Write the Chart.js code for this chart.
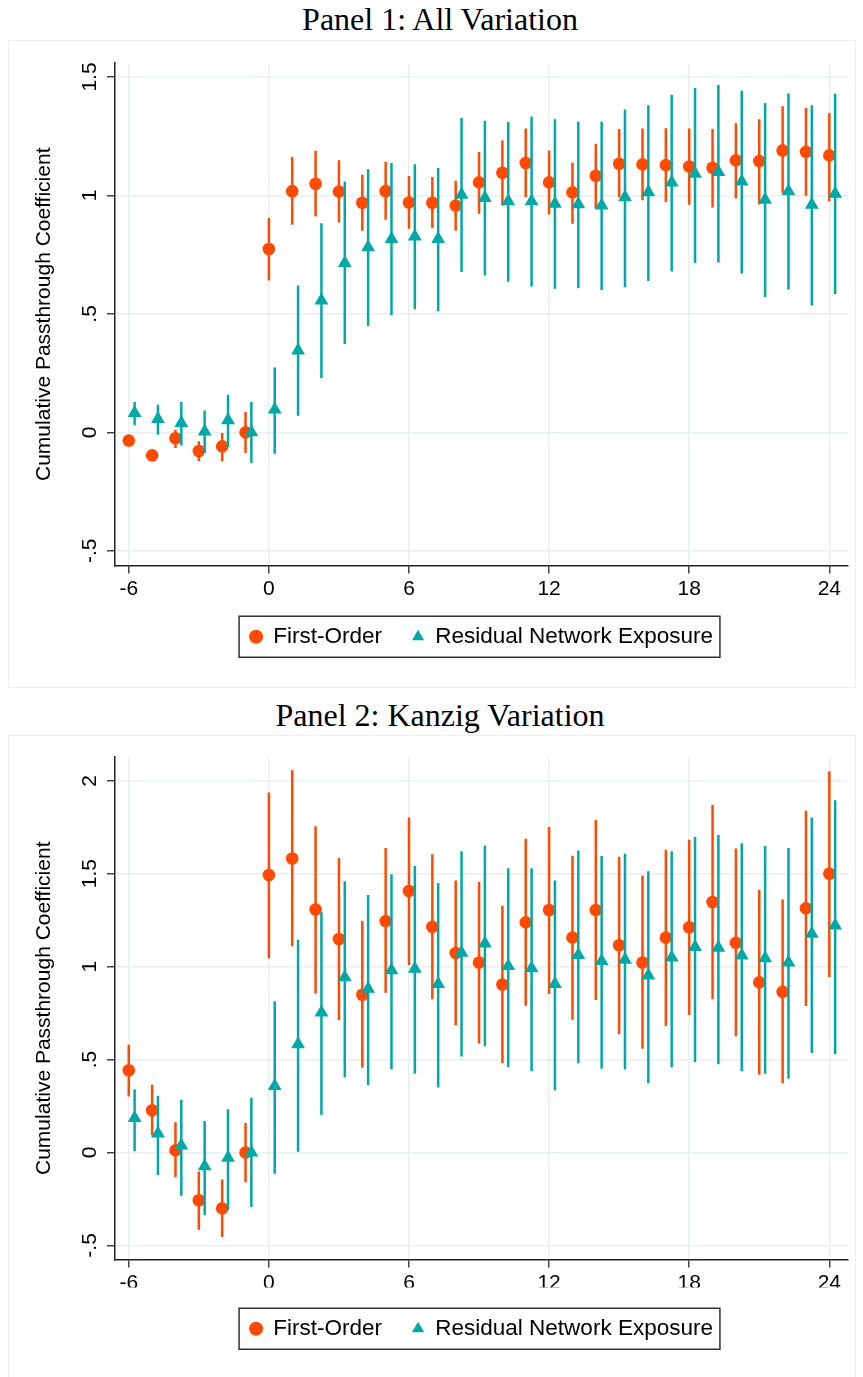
<!DOCTYPE html>
<html>
<head>
<meta charset="utf-8">
<title>Cumulative passthrough</title>
<script src="https://cdn.jsdelivr.net/npm/chart.js@4.4.1/dist/chart.umd.min.js"></script>
<style>
    body { margin: 0; background: #fff; width: 863px; height: 1377px; position: relative; overflow: hidden; }
    .titulo { position: absolute; left: 0; width: 880px; text-align: center; font-family: 'Liberation Serif', serif; font-size: 32px; line-height: 32px; color: #000; }
    .moldura { position: absolute; left: 8px; width: 848px; box-sizing: border-box; border: 1px solid #eeeeee; }
    canvas { position: absolute; left: 8px; }
</style>
</head>
<body>
<div class="titulo" style="top:3px">Panel 1: All Variation</div>
<div class="moldura" style="top:40px;height:648px"></div>
<canvas id="graficoTodas" width="848" height="648" style="top:40px"></canvas>

<div class="titulo" style="top:699px">Panel 2: Kanzig Variation</div>
<div class="moldura" style="top:735px;height:680px"></div>
<canvas id="graficoKanzig" width="848" height="642" style="top:735px"></canvas>

<script>
const months = [-6, -5, -4, -3, -2, -1, 0, 1, 2, 3, 4, 5, 6, 7, 8, 9, 10, 11, 12, 13, 14, 15, 16, 17, 18, 19, 20, 21, 22, 23, 24];
const xTicks = [-6, 0, 6, 12, 18, 24];

// Panel 1: all variation
const fo1 = [-0.035, -0.097, -0.025, -0.079, -0.059, 0, 0.774, 1.018, 1.049, 1.016, 0.969, 1.018, 0.970, 0.969, 0.957, 1.055, 1.096, 1.137, 1.055, 1.013, 1.083, 1.134, 1.131, 1.128, 1.122, 1.117, 1.148, 1.145, 1.190, 1.184, 1.169];
const fo1Lo = [-0.047, -0.109, -0.066, -0.122, -0.122, -0.087, 0.641, 0.876, 0.911, 0.886, 0.851, 0.897, 0.859, 0.861, 0.851, 0.923, 0.958, 0.992, 0.920, 0.881, 0.945, 0.992, 0.980, 0.972, 0.961, 0.949, 0.987, 0.962, 1.010, 0.999, 0.975];
const fo1Hi = [-0.023, -0.085, 0.011, -0.038, -0.003, 0.086, 0.905, 1.162, 1.189, 1.148, 1.087, 1.142, 1.082, 1.078, 1.062, 1.183, 1.232, 1.283, 1.190, 1.139, 1.218, 1.280, 1.283, 1.284, 1.283, 1.280, 1.305, 1.322, 1.376, 1.369, 1.348];
const rne1 = [0.082, 0.056, 0.040, 0.004, 0.051, 0, 0.096, 0.345, 0.557, 0.715, 0.781, 0.816, 0.827, 0.816, 1.003, 0.989, 0.975, 0.975, 0.965, 0.963, 0.958, 0.992, 1.013, 1.055, 1.092, 1.099, 1.059, 0.982, 1.018, 0.961, 1.007];
const rne1Lo = [0.030, -0.010, -0.055, -0.087, -0.062, -0.129, -0.090, 0.070, 0.229, 0.373, 0.449, 0.494, 0.520, 0.511, 0.677, 0.662, 0.636, 0.616, 0.606, 0.608, 0.601, 0.612, 0.639, 0.679, 0.715, 0.717, 0.670, 0.571, 0.603, 0.535, 0.584];
const rne1Hi = [0.128, 0.116, 0.128, 0.092, 0.159, 0.128, 0.274, 0.620, 0.883, 1.059, 1.111, 1.137, 1.132, 1.116, 1.327, 1.315, 1.310, 1.333, 1.322, 1.311, 1.311, 1.363, 1.381, 1.425, 1.454, 1.466, 1.442, 1.390, 1.430, 1.381, 1.429];
const yTicks1 = [-0.5, 0, 0.5, 1, 1.5];
const yLabels1 = ['-.5', '0', '.5', '1', '1.5'];

// Panel 2: Kanzig variation
const fo2 = [0.442, 0.227, 0.011, -0.257, -0.301, 0, 1.493, 1.582, 1.307, 1.149, 0.849, 1.245, 1.407, 1.214, 1.073, 1.022, 0.904, 1.238, 1.305, 1.156, 1.305, 1.115, 1.022, 1.156, 1.212, 1.348, 1.128, 0.915, 0.864, 1.314, 1.500];
const fo2Lo = [0.301, 0.093, -0.134, -0.416, -0.455, -0.160, 1.045, 1.110, 0.855, 0.712, 0.456, 0.859, 1.009, 0.824, 0.684, 0.586, 0.480, 0.790, 0.853, 0.714, 0.820, 0.638, 0.558, 0.680, 0.740, 0.825, 0.625, 0.418, 0.372, 0.788, 0.944];
const fo2Hi = [0.580, 0.364, 0.162, -0.102, -0.145, 0.158, 1.937, 2.058, 1.755, 1.584, 1.245, 1.638, 1.803, 1.605, 1.463, 1.456, 1.327, 1.688, 1.751, 1.597, 1.789, 1.591, 1.491, 1.629, 1.683, 1.870, 1.636, 1.413, 1.361, 1.839, 2.051];
const rne2 = [0.186, 0.102, 0.037, -0.074, -0.028, 0, 0.357, 0.582, 0.753, 0.943, 0.881, 0.980, 0.989, 0.907, 1.075, 1.125, 1.004, 0.991, 0.907, 1.063, 1.030, 1.037, 0.952, 1.049, 1.106, 1.102, 1.060, 1.045, 1.022, 1.177, 1.221];
const rne2Lo = [0.007, -0.121, -0.233, -0.338, -0.310, -0.294, -0.115, 0.004, 0.201, 0.405, 0.363, 0.446, 0.424, 0.350, 0.517, 0.571, 0.459, 0.437, 0.335, 0.480, 0.450, 0.446, 0.372, 0.459, 0.487, 0.474, 0.437, 0.424, 0.396, 0.535, 0.530];
const rne2Hi = [0.340, 0.305, 0.283, 0.169, 0.233, 0.294, 0.813, 1.145, 1.292, 1.460, 1.385, 1.497, 1.541, 1.450, 1.621, 1.651, 1.530, 1.530, 1.463, 1.625, 1.595, 1.608, 1.513, 1.621, 1.697, 1.708, 1.664, 1.649, 1.638, 1.803, 1.895];
const yTicks2 = [-0.5, 0, 0.5, 1, 1.5, 2];
const yLabels2 = ['-.5', '0', '.5', '1', '1.5', '2'];

const LARANJA = '#ff4a00';
const VERDE = '#00a8a8';
const DESLOCAMENTO = 0.25;   // triangles sit a quarter month to the right

Chart.defaults.font.family = "'Liberation Sans', Arial, sans-serif";
Chart.defaults.font.size = 21;
Chart.defaults.color = '#000';

function pontos(ys, shift) {
    return months.map((m, i) => ({ x: m + shift, y: ys[i] }));
}

function intervalos(lo, hi, shift) {
    return months.map((m, i) => ({ x: m + shift, y: [lo[i], hi[i]] }));
}

// box around the legend, Stata style
const caixaLegenda = {
    id: 'caixaLegenda',
    afterDraw(chart) {
        const boxes = chart.legend && chart.legend.legendHitBoxes;
        if (!boxes || boxes.length === 0) {
            return;
        }
        const left = Math.min(...boxes.map((b) => b.left)) - 11;
        const right = Math.max(...boxes.map((b) => b.left + b.width)) + 7;
        const cy = boxes[0].top + boxes[0].height / 2;
        const ctx = chart.ctx;
        ctx.save();
        ctx.strokeStyle = '#333';
        ctx.lineWidth = 1.5;
        ctx.strokeRect(left, cy - 20.5, right - left, 41);
        ctx.restore();
    }
};

function criarPainel(canvasId, serie, eixo) {
    const ctx = document.getElementById(canvasId);
    return new Chart(ctx, {
        type: 'scatter',
        data: {
            datasets: [
                {
                    type: 'bar',
                    label: 'ci-fo',
                    data: intervalos(serie.foLo, serie.foHi, 0),
                    backgroundColor: LARANJA,
                    grouped: false,
                    maxBarThickness: 2.5,
                    order: 4
                },
                {
                    label: 'First-Order',
                    data: pontos(serie.fo, 0),
                    pointStyle: 'circle',
                    pointRadius: 6.3,
                    backgroundColor: LARANJA,
                    borderWidth: 0,
                    order: 3
                },
                {
                    type: 'bar',
                    label: 'ci-rne',
                    data: intervalos(serie.rneLo, serie.rneHi, DESLOCAMENTO),
                    backgroundColor: VERDE,
                    grouped: false,
                    maxBarThickness: 2.5,
                    order: 2
                },
                {
                    label: 'Residual Network Exposure',
                    data: pontos(serie.rne, DESLOCAMENTO),
                    pointStyle: 'triangle',
                    pointRadius: 8,
                    backgroundColor: VERDE,
                    borderWidth: 0,
                    order: 1
                }
            ]
        },
        options: {
            responsive: false,
            animation: false,
            events: [],
            layout: { padding: { top: eixo.padTop, left: 0, right: 7, bottom: eixo.padBottom } },
            scales: {
                x: {
                    type: 'linear',
                    min: -6.59,
                    max: 24.8,
                    offset: false,
                    afterBuildTicks: (s) => { s.ticks = xTicks.map((v) => ({ value: v })); },
                    afterFit: (s) => { s.height = eixo.xHeight; },
                    ticks: { padding: 3, maxRotation: 0, callback: (v) => String(v) },
                    grid: { offset: false, color: '#e8eff1', lineWidth: 1.5, tickColor: '#444', tickWidth: 1.5, tickLength: 8 },
                    border: { color: '#222', width: 1.5 }
                },
                y: {
                    type: 'linear',
                    min: eixo.min,
                    max: eixo.max,
                    afterBuildTicks: (s) => { s.ticks = eixo.ticks.map((v) => ({ value: v })); },
                    afterFit: (s) => { s.width = 107; },
                    ticks: {
                        padding: 2,
                        minRotation: 90,
                        maxRotation: 90,
                        crossAlign: 'center',
                        callback: (v) => eixo.labels[eixo.ticks.indexOf(v)]
                    },
                    grid: { color: '#e8eff1', lineWidth: 1.5, tickColor: '#444', tickWidth: 1.5, tickLength: 8 },
                    border: { color: '#222', width: 1.5 },
                    title: {
                        display: true,
                        text: 'Cumulative Passthrough Coefficient',
                        padding: { top: 23.7, bottom: 0 },
                        font: { size: 21 }
                    }
                }
            },
            plugins: {
                tooltip: { enabled: false },
                legend: {
                    position: 'bottom',
                    fullSize: false,
                    labels: {
                        usePointStyle: true,
                        boxWidth: 12,
                        boxHeight: 10,
                        padding: 30,
                        font: { size: 22.5 },
                        filter: (item) => item.datasetIndex === 1 || item.datasetIndex === 3,
                        sort: (a, b) => a.datasetIndex - b.datasetIndex
                    }
                }
            }
        },
        plugins: [caixaLegenda]
    });
}

criarPainel('graficoTodas',
    { fo: fo1, foLo: fo1Lo, foHi: fo1Hi, rne: rne1, rneLo: rne1Lo, rneHi: rne1Hi },
    { min: -0.562, max: 1.559, ticks: yTicks1, labels: yLabels1, padTop: 23, padBottom: 30, xHeight: 30 });

criarPainel('graficoKanzig',
    { fo: fo2, foLo: fo2Lo, foHi: fo2Hi, rne: rne2, rneLo: rne2Lo, rneHi: rne2Hi },
    { min: -0.576, max: 2.128, ticks: yTicks2, labels: yLabels2, padTop: 22, padBottom: 27, xHeight: 28 });
</script>
</body>
</html>
